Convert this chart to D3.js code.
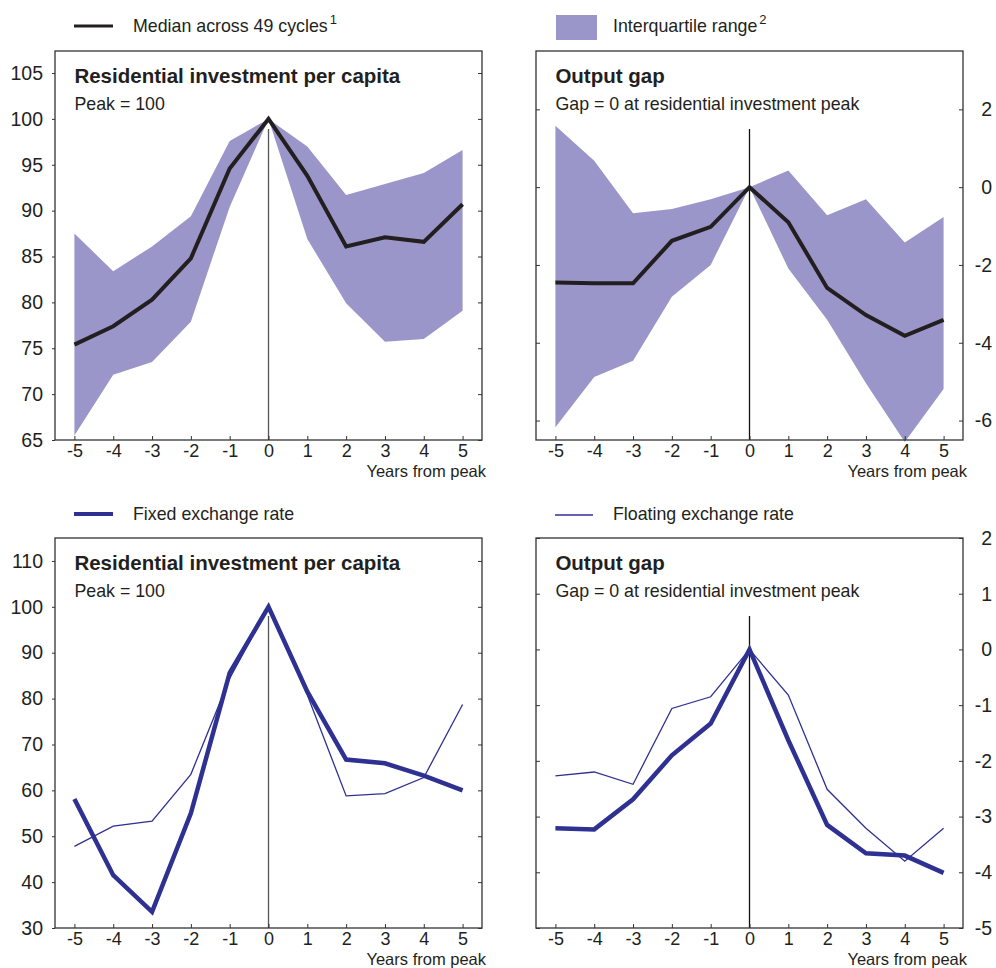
<!DOCTYPE html>
<html>
<head>
<meta charset="utf-8">
<script src="https://cdn.jsdelivr.net/npm/d3@7"></script>
<style>
  body { margin: 0; background: #fff; }
  svg text { font-family: "Liberation Sans", Arial, sans-serif; fill: #231f20; }
</style>
</head>
<body>
<div class="graph"></div>
<script>
// years relative to the residential investment peak
var years = [-5, -4, -3, -2, -1, 0, 1, 2, 3, 4, 5];

// top left: residential investment per capita, peak = 100
var resMedian = [75.4, 77.4, 80.3, 84.8, 94.6, 100, 93.8, 86.1, 87.1, 86.6, 90.7];
var resUpper  = [87.5, 83.4, 86.1, 89.4, 97.6, 100, 97.0, 91.7, 92.9, 94.1, 96.6];
var resLower  = [65.5, 72.1, 73.5, 77.9, 90.4, 100, 86.9, 79.9, 75.7, 76.0, 79.1];

// top right: output gap
var gapMedian = [-2.45, -2.47, -2.47, -1.38, -1.02, 0, -0.90, -2.59, -3.29, -3.82, -3.41];
var gapUpper  = [1.58, 0.68, -0.67, -0.56, -0.31, 0, 0.43, -0.72, -0.31, -1.42, -0.77];
var gapLower  = [-6.17, -4.88, -4.46, -2.82, -2.00, 0, -2.09, -3.41, -5.04, -6.55, -5.19];

// bottom left: residential investment by exchange rate regime
var resFixed    = [58.1, 41.5, 33.5, 55.0, 85.6, 100, 81.5, 66.7, 65.9, 63.2, 60.0];
var resFloating = [47.8, 52.2, 53.3, 63.5, 84.4, 100, 80.8, 58.8, 59.3, 62.8, 78.7];

// bottom right: output gap by exchange rate regime
var gapFixed    = [-3.21, -3.23, -2.69, -1.90, -1.33, 0, -1.63, -3.15, -3.66, -3.70, -4.01];
var gapFloating = [-2.27, -2.20, -2.42, -1.06, -0.85, 0, -0.82, -2.51, -3.21, -3.80, -3.21];

// tick values
var resTicksTop = [65, 70, 75, 80, 85, 90, 95, 100, 105];
var gapTicksTop = [-6, -4, -2, 0, 2];
var resTicksBottom = [30, 40, 50, 60, 70, 80, 90, 100, 110];
var gapTicksBottom = [-5, -4, -3, -2, -1, 0, 1, 2];

var bandColor = '#9b96c9',
    medianColor = '#231f20',
    regimeColor = '#2e3192';

var width = 996, height = 968;
var plain = function (d) { return String(d); }; // keep hyphen minus like the original

var svg = d3.select('.graph').append('svg')
    .attr('width', width)
    .attr('height', height);

function drawPanel(opt) {
  var x = d3.scaleLinear().domain([-5.5, 5.5]).range([opt.left, opt.right]);
  var y = d3.scaleLinear().domain(opt.yDomain).range([opt.bottom, opt.top]);
  var g = svg.append('g');

  // interquartile band
  if (opt.band) {
    var area = d3.area()
      .x(function (d, i) { return x(years[i]); })
      .y0(function (d, i) { return y(opt.band[0][i]); })
      .y1(function (d, i) { return y(opt.band[1][i]); });
    g.append('path')
      .datum(years)
      .attr('d', area)
      .attr('fill', bandColor);
  }

  // vertical marker at the peak
  g.append('line')
    .attr('x1', x(0)).attr('x2', x(0))
    .attr('y1', y.range()[1] + 78).attr('y2', y.range()[0])
    .attr('stroke', opt.vColor)
    .attr('stroke-width', 1.3);

  var line = d3.line()
    .x(function (d, i) { return x(years[i]); })
    .y(function (d) { return y(d); });

  opt.series.forEach(function (s) {
    g.append('path')
      .datum(s.values)
      .attr('d', line)
      .attr('fill', 'none')
      .attr('stroke', s.color)
      .attr('stroke-width', s.width)
      .attr('stroke-linejoin', 'miter');
  });

  // frame
  g.append('rect')
    .attr('x', opt.left).attr('y', opt.top)
    .attr('width', opt.right - opt.left).attr('height', opt.bottom - opt.top)
    .attr('fill', 'none')
    .attr('stroke', '#333')
    .attr('stroke-width', 1.3);

  // x axis: ticks inside, labels below
  var xAxis = g.append('g')
    .attr('transform', 'translate(0,' + opt.bottom + ')')
    .call(d3.axisBottom(x).tickValues(years).tickSize(-4).tickFormat(plain));
  xAxis.select('.domain').remove();
  xAxis.selectAll('text').attr('font-size', 18).attr('fill', '#231f20')
    .attr('y', 17).attr('dy', 0);
  xAxis.selectAll('line').attr('stroke', '#333');

  g.append('text')
    .attr('x', opt.right + 4)
    .attr('y', opt.bottom + 36.5)
    .attr('text-anchor', 'end')
    .attr('font-size', 16.5)
    .text('Years from peak');

  // y axes on both sides
  var leftAxis = g.append('g')
    .attr('transform', 'translate(' + opt.left + ',0)')
    .call(d3.axisLeft(y).tickValues(opt.ticks).tickSize(opt.labelsRight ? -4 : 3).tickFormat(plain));
  var rightAxis = g.append('g')
    .attr('transform', 'translate(' + opt.right + ',0)')
    .call(d3.axisRight(y).tickValues(opt.ticks).tickSize(-4));
  [leftAxis, rightAxis].forEach(function (a) {
    a.select('.domain').remove();
    a.selectAll('line').attr('stroke', '#333');
  });
  rightAxis.selectAll('text').remove();
  if (opt.labelsRight) {
    leftAxis.selectAll('text').remove();
    g.append('g').selectAll('text')
      .data(opt.ticks)
      .enter().append('text')
        .attr('x', width - 4)
        .attr('y', function (d) { return y(d); })
        .attr('dy', '0.35em')
        .attr('text-anchor', 'end')
        .attr('font-size', 19.5)
        .text(plain);
  } else {
    leftAxis.selectAll('text').attr('font-size', 19.5).attr('fill', '#231f20')
      .attr('x', -12);
  }

  // titles
  g.append('text')
    .attr('x', x(-5))
    .attr('y', opt.top + 32)
    .attr('font-size', 20.5)
    .attr('font-weight', 'bold')
    .text(opt.title);
  g.append('text')
    .attr('x', x(-5))
    .attr('y', opt.top + 59)
    .attr('font-size', 17.8)
    .text(opt.subtitle);
}

drawPanel({
  left: 55, right: 482, top: 51, bottom: 440,
  yDomain: [65, 107.4], ticks: resTicksTop,
  band: [resLower, resUpper], vColor: '#555',
  series: [{ values: resMedian, color: medianColor, width: 4 }],
  title: 'Residential investment per capita', subtitle: 'Peak = 100'
});
drawPanel({
  left: 536, right: 963, top: 51, bottom: 440,
  yDomain: [-6.5, 3.5], ticks: gapTicksTop, labelsRight: true,
  band: [gapLower, gapUpper], vColor: '#111',
  series: [{ values: gapMedian, color: medianColor, width: 4 }],
  title: 'Output gap', subtitle: 'Gap = 0 at residential investment peak'
});
drawPanel({
  left: 55, right: 482, top: 538, bottom: 928,
  yDomain: [30, 115], ticks: resTicksBottom, vColor: '#555',
  series: [
    { values: resFloating, color: regimeColor, width: 1.3 },
    { values: resFixed, color: regimeColor, width: 4.5 }
  ],
  title: 'Residential investment per capita', subtitle: 'Peak = 100'
});
drawPanel({
  left: 536, right: 963, top: 538, bottom: 928,
  yDomain: [-5, 2], ticks: gapTicksBottom, labelsRight: true, vColor: '#111',
  series: [
    { values: gapFloating, color: regimeColor, width: 1.3 },
    { values: gapFixed, color: regimeColor, width: 4.5 }
  ],
  title: 'Output gap', subtitle: 'Gap = 0 at residential investment peak'
});

// legends
function legendText(xPos, yPos, label, sup) {
  var t = svg.append('text')
    .attr('x', xPos).attr('y', yPos)
    .attr('font-size', 17.8)
    .text(label);
  if (sup) {
    t.append('tspan')
      .attr('dx', 2).attr('dy', -8)
      .attr('font-size', 13)
      .text(sup);
  }
}

svg.append('line')
  .attr('x1', 74).attr('x2', 113).attr('y1', 26).attr('y2', 26)
  .attr('stroke', medianColor).attr('stroke-width', 3);
legendText(133, 32, 'Median across 49 cycles', '1');

svg.append('rect')
  .attr('x', 556).attr('y', 15).attr('width', 41).attr('height', 25)
  .attr('fill', bandColor);
legendText(613, 32, 'Interquartile range', '2');

svg.append('line')
  .attr('x1', 74).attr('x2', 113).attr('y1', 514).attr('y2', 514)
  .attr('stroke', regimeColor).attr('stroke-width', 4);
legendText(133, 520, 'Fixed exchange rate');

svg.append('line')
  .attr('x1', 555).attr('x2', 593).attr('y1', 515).attr('y2', 515)
  .attr('stroke', regimeColor).attr('stroke-width', 1.3);
legendText(613, 520, 'Floating exchange rate');
</script>
</body>
</html>
